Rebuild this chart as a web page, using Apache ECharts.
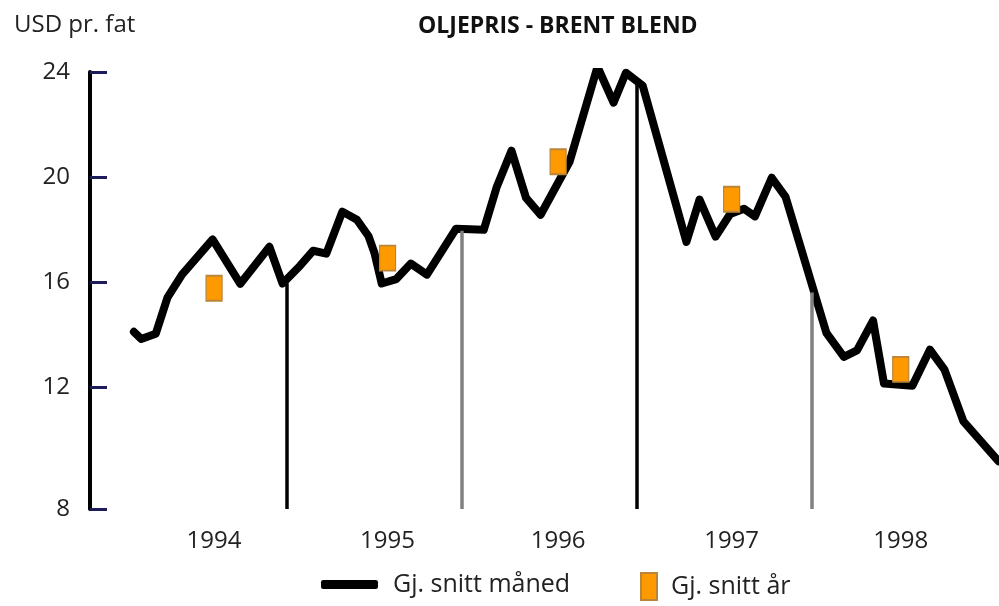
<!DOCTYPE html>
<html>
<head>
<meta charset="utf-8">
<title>Oljepris - Brent Blend</title>
<script src="https://cdn.jsdelivr.net/npm/echarts@6/dist/echarts.min.js"></script>
<style>
  html, body { margin: 0; padding: 0; background: #fff; }
  #chart { width: 999px; height: 606px; }
</style>
</head>
<body>
<div id="chart"></div>
<script>
// månedspris, x = måneder fra 1. januar 1994 (slik kurven er tegnet)
const monthPos = [1.5, 2.0, 3.0, 3.8, 4.8, 6.9, 8.8, 10.8, 11.7, 12.9, 13.8, 14.7, 15.8, 16.8, 17.6, 18.0,
  18.5, 19.5, 20.5, 21.6, 23.6, 25.5, 26.4, 27.4, 28.4, 29.4, 31.4, 33.3, 34.4, 35.25, 36.4, 39.4,
  40.3, 41.4, 42.4, 43.35, 44.1, 45.25, 46.2, 49.0, 50.2, 51.1, 52.2, 52.95, 54.9, 56.1, 57.1, 58.4, 60.8]
const priceMonth = [14.1, 13.83, 14.03, 15.4, 16.28, 17.62, 15.93, 17.34, 15.94, 16.62, 17.19, 17.08, 18.68, 18.37, 17.74, 17.11,
  15.94, 16.11, 16.7, 16.28, 18.03, 17.99, 19.64, 21.0, 19.2, 18.56, 20.6, 24.2, 22.83, 23.97, 23.48, 17.53,
  19.14, 17.73, 18.59, 18.79, 18.5, 19.97, 19.24, 14.06, 13.15, 13.39, 14.53, 12.13, 12.05, 13.42, 12.66, 10.69, 9.17]

// årsgjennomsnitt
const years = ['1994', '1995', '1996', '1997', '1998']
const yearPos = [7.0, 18.9, 30.6, 42.5, 54.1]
const yearAvg = [15.76, 16.91, 20.58, 19.15, 12.67]

// årsskiller (loddrette streker fra kurven ned til aksen)
const dividerPos = [12, 24, 36, 48]
const dividerTop = [15.95, 17.95, 23.65, 15.6]

// y-akse: nederste merke "8" sitter ved aksens bunn
const yTickLabels = ['8', '12', '16', '20', '24']
const yTickVals = [7.35, 12, 16, 20, 24]

const FONT = 'Open Sans'
const dividerColors = ['#000', '#808080', '#000', '#808080']

const chart = echarts.init(document.getElementById('chart'))

chart.setOption({
  animation: false,
  backgroundColor: '#fff',
  title: [
    {
      text: 'OLJEPRIS - BRENT BLEND',
      left: 418,
      top: 15,
      padding: 0,
      textStyle: { fontFamily: FONT, fontSize: 23, fontWeight: 'bold', color: '#111' }
    },
    {
      text: 'USD pr. fat',
      left: 14,
      top: 13,
      padding: 0,
      textStyle: { fontFamily: FONT, fontSize: 24, fontWeight: 'normal', color: '#222' }
    }
  ],
  legend: [
    {
      data: ['Gj. snitt måned'],
      left: 321,
      top: 572,
      padding: 0,
      itemWidth: 57,
      itemHeight: 9,
      icon: 'roundRect',
      selectedMode: false,
      textStyle: { fontFamily: FONT, fontSize: 25, color: '#222', padding: [0, 0, 0, 10] }
    },
    {
      data: ['Gj. snitt år'],
      left: 640,
      top: 572,
      padding: 0,
      itemWidth: 16,
      itemHeight: 27,
      icon: 'rect',
      selectedMode: false,
      textStyle: { fontFamily: FONT, fontSize: 25, color: '#222', padding: [0, 0, 0, 9] }
    }
  ],
  grid: { left: 90, right: 0, top: 72, bottom: 97 },
  xAxis: {
    type: 'value',
    min: -1.51,
    max: 60.84,
    axisLine: { show: false, onZero: false },
    axisTick: { show: false },
    splitLine: { show: false },
    axisLabel: {
      customValues: yearPos,
      formatter: v => years[yearPos.findIndex(p => Math.abs(p - v) < 1e-6)],
      fontFamily: FONT,
      fontSize: 24,
      color: '#222',
      margin: 20
    }
  },
  yAxis: {
    type: 'value',
    min: 7.35,
    max: 24,
    splitLine: { show: false },
    axisLine: { show: true, onZero: false, lineStyle: { color: '#000', width: 4 } },
    axisTick: {
      show: true,
      inside: true,
      length: 17,
      customValues: yTickVals,
      lineStyle: { color: '#1c1c5a', width: 3 }
    },
    axisLabel: {
      customValues: yTickVals,
      formatter: v => yTickLabels[yTickVals.findIndex(p => Math.abs(p - v) < 1e-6)],
      fontFamily: FONT,
      fontSize: 24,
      color: '#222',
      margin: 20
    }
  },
  series: [
    {
      // årsskiller
      type: 'line',
      data: [],
      z: 1,
      markLine: {
        silent: true,
        symbol: ['none', 'none'],
        label: { show: false },
        data: dividerPos.map((p, i) => [
          { coord: [p, dividerTop[i]], lineStyle: { color: dividerColors[i], width: 3.5, type: 'solid' } },
          { coord: [p, 7.35] }
        ])
      }
    },
    {
      name: 'Gj. snitt måned',
      type: 'line',
      z: 2,
      showSymbol: false,
      data: monthPos.map((m, i) => [m, priceMonth[i]]),
      itemStyle: { color: '#000' },
      lineStyle: { color: '#000', width: 8, join: 'round', cap: 'round' }
    },
    {
      name: 'Gj. snitt år',
      type: 'scatter',
      z: 3,
      symbol: 'rect',
      symbolSize: [16, 25],
      data: yearPos.map((p, i) => [p, yearAvg[i]]),
      itemStyle: { color: '#FF9900', borderColor: '#B9853A', borderWidth: 1.5, opacity: 1 }
    }
  ]
})
</script>
</body>
</html>
